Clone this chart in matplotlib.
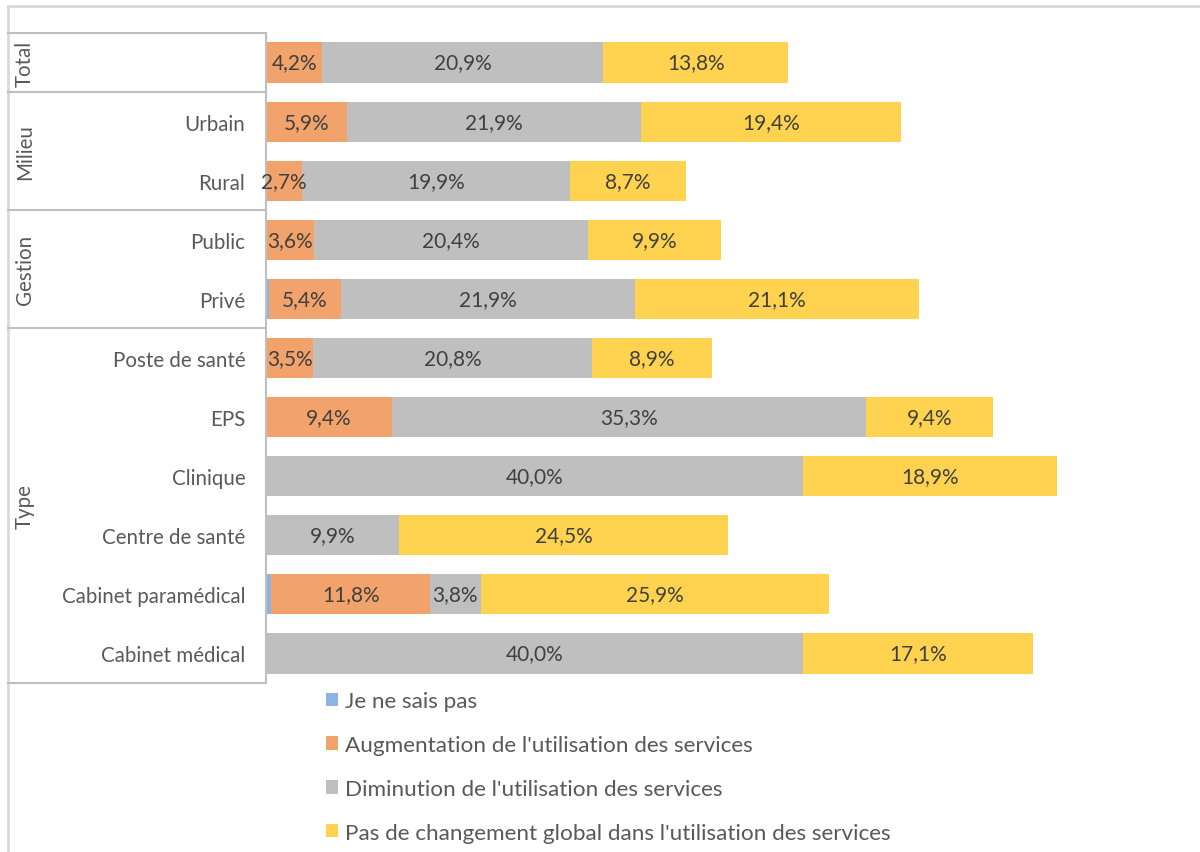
import matplotlib
matplotlib.use("Agg")
import matplotlib.pyplot as plt
from matplotlib.lines import Line2D
from matplotlib.patches import Rectangle

plt.rcParams['font.family'] = ['Lato', 'DejaVu Sans']

categories = ["Total", "Urbain", "Rural", "Public", "Privé", "Poste de santé",
              "EPS", "Clinique", "Centre de santé", "Cabinet paramédical",
              "Cabinet médical"]
cat_labels = ["", "Urbain", "Rural", "Public", "Privé", "Poste de santé",
              "EPS", "Clinique", "Centre de santé", "Cabinet paramédical",
              "Cabinet médical"]
groups = ["Total", "Milieu", "Gestion", "Type"]
group_sizes = [1, 2, 2, 6]

series_names = ["Je ne sais pas",
                "Augmentation de l'utilisation des services",
                "Diminution de l'utilisation des services",
                "Pas de changement global dans l'utilisation des services"]
ne_sais_pas = [0.0, 0.1, 0.0, 0.0, 0.2, 0.0, 0.0, 0.0, 0.0, 0.4, 0.0]
augmentation = [4.2, 5.9, 2.7, 3.6, 5.4, 3.5, 9.4, 0.0, 0.0, 11.8, 0.0]
diminution = [20.9, 21.9, 19.9, 20.4, 21.9, 20.8, 35.3, 40.0, 9.9, 3.8, 40.0]
pas_changement = [13.8, 19.4, 8.7, 9.9, 21.1, 8.9, 9.4, 18.9, 24.5, 25.9, 17.1]
series = [ne_sais_pas, augmentation, diminution, pas_changement]
colors = ["#8DB4E2", "#F2A36B", "#BFBFBF", "#FFD34F"]
labelled = [False, True, True, True]

W, H = 1200, 853
fig = plt.figure(figsize=(W / 100, H / 100), dpi=100)

ax_left, ax_right, ax_top, ax_bottom = 266, 1190, 34, 684
ax = fig.add_axes([ax_left / W, 1 - ax_bottom / H,
                   (ax_right - ax_left) / W, (ax_bottom - ax_top) / H])

n = len(categories)
ypos = list(range(n))
left = [0.0] * n
text_color = "#404040"
for vals, col, name, lab in zip(series, colors, series_names, labelled):
    ax.barh(ypos, vals, left=left, height=0.68, color=col, label=name,
            edgecolor="none")
    if lab:
        for i, v in enumerate(vals):
            if v > 0:
                ax.text(left[i] + v / 2, i, f"{v:.1f}%".replace(".", ","),
                        ha="center", va="center", fontsize=15,
                        color=text_color)
    left = [a + b for a, b in zip(left, vals)]

ax.set_ylim(n - 0.5, -0.5)
ax.set_xlim(0, (ax_right - ax_left) / 13.43)
ax.set_xticks([])
ax.set_yticks(ypos)
ax.set_yticklabels(cat_labels, fontsize=14.8, color="#595959")
ax.tick_params(axis="y", length=0, pad=15)
for s in ["top", "right", "bottom"]:
    ax.spines[s].set_visible(False)
ax.spines["left"].set_color("#BFBFBF")
ax.spines["left"].set_linewidth(1.5)

# Outer chart frame
fig.patches.append(Rectangle((8 / W, -0.1), 1.2, 1 - 7 / H + 0.1,
                             transform=fig.transFigure, fill=False,
                             edgecolor="#D9D9D9", linewidth=2))

# Group boxes of the category axis
row_h = (ax_bottom - ax_top) / n
y_edge = ax_top
bounds = [y_edge]
for g, size in zip(groups, group_sizes):
    y0 = y_edge
    y_edge += size * row_h
    bounds.append(y_edge)
    fig.text(25 / W, 1 - (y0 + y_edge) / 2 / H, g, rotation=90,
             ha="center", va="center", fontsize=14.8, color="#595959")
for yb in bounds:
    fig.add_artist(Line2D([8 / W, ax_left / W], [1 - yb / H, 1 - yb / H],
                          transform=fig.transFigure, color="#BFBFBF",
                          linewidth=1.5))

fig.legend(loc="upper left", bbox_to_anchor=(306 / W, 1 - 672 / H),
           frameon=False, fontsize=16.2, handlelength=0.53, handleheight=0.53,
           handletextpad=0.3, labelspacing=1.06, labelcolor="#595959")

fig.savefig("out.png", dpi=100)
